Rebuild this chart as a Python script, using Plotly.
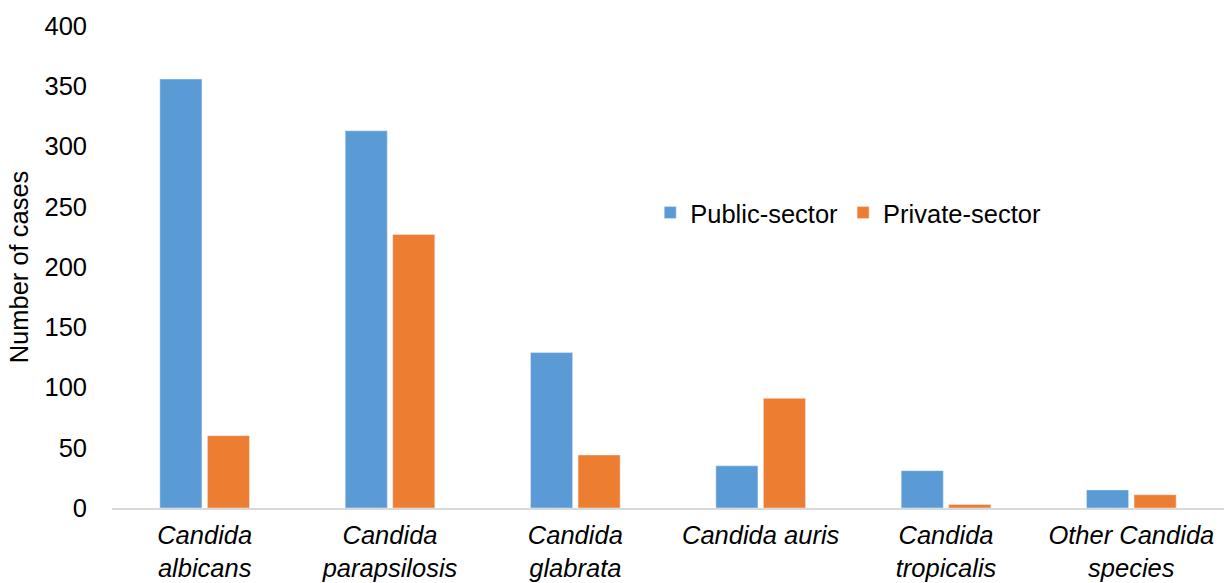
import plotly.graph_objects as go

# Candidaemia cases by species and health-care sector
species = [
    "Candida<br>albicans",
    "Candida<br>parapsilosis",
    "Candida<br>glabrata",
    "Candida auris",
    "Candida<br>tropicalis",
    "Other Candida<br>species",
]
public_sector = [356, 313, 129, 35, 31, 15]
private_sector = [60, 227, 44, 91, 3, 11]
y_ticks = [0, 50, 100, 150, 200, 250, 300, 350, 400]

FONT = "Arial, 'Liberation Sans', sans-serif"
TXT = 25.5

fig = go.Figure()
fig.add_trace(go.Bar(x=list(range(len(species))), y=public_sector,
                     name="Public-sector", marker_color="#5B9BD5"))
fig.add_trace(go.Bar(x=list(range(len(species))), y=private_sector,
                     name="Private-sector", marker_color="#ED7D31"))

fig.update_layout(
    width=1224, height=583,
    margin=dict(l=112, r=0, t=26, b=75, pad=0, autoexpand=False),
    paper_bgcolor="white", plot_bgcolor="white",
    barmode="group", bargap=0.487, bargroupgap=0.115,
    font=dict(family=FONT, size=TXT, color="#000000"),
    showlegend=True,
    legend=dict(orientation="h", x=0.484, y=0.612, xanchor="left", yanchor="middle",
                bgcolor="rgba(0,0,0,0)", font=dict(size=TXT, color="#000000"),
                traceorder="normal"),
)
fig.update_xaxes(
    tickmode="array", tickvals=list(range(len(species))), ticktext=species,
    range=[-0.5, len(species) - 0.5], automargin=False,
    showline=True, linecolor="#D9D9D9", linewidth=2,
    showgrid=False, zeroline=False, ticks="",
    tickfont=dict(family=FONT, size=TXT, style="italic", color="#000000"),
    ticklabelstandoff=3,
)
fig.update_yaxes(
    range=[0, 400], tickmode="array", tickvals=y_ticks, automargin=False,
    showgrid=False, zeroline=False, showline=False, ticks="",
    tickfont=dict(family=FONT, size=TXT, color="#000000"),
    ticklabelstandoff=24,
    title=dict(text="Number of cases", font=dict(family=FONT, size=TXT, color="#000000"),
               standoff=8),
)

fig.write_html("out.html")
